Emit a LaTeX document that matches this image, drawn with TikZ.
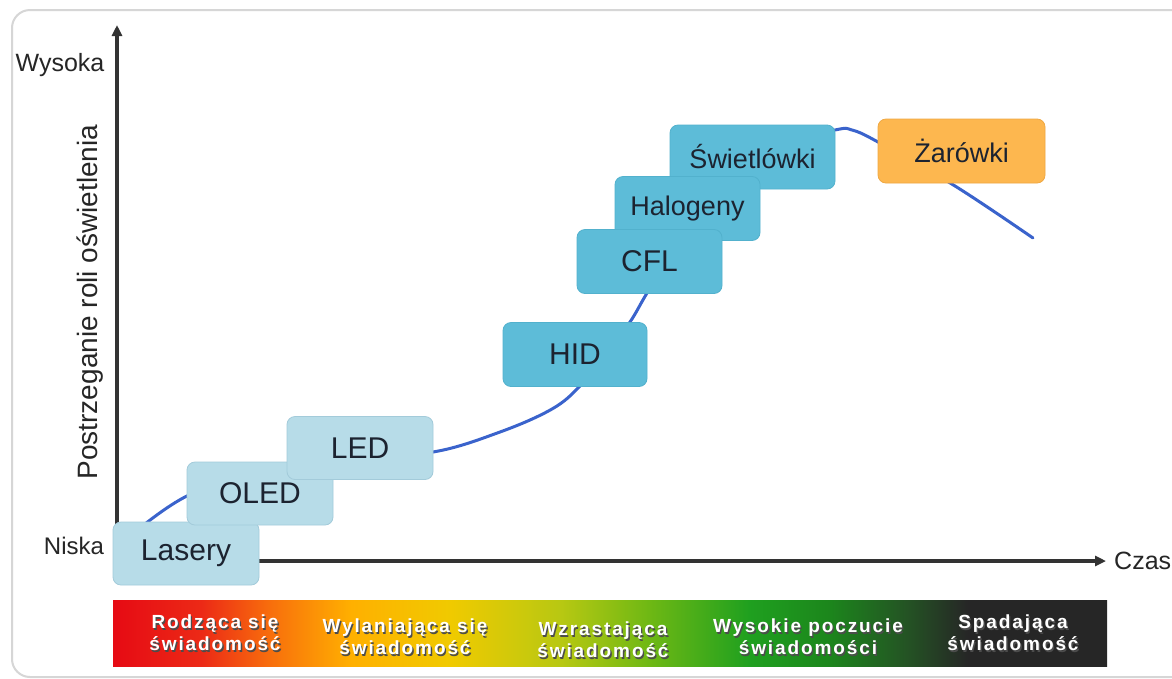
\documentclass[tikz,border=0pt]{standalone}
\usepackage{fontspec}
\setmainfont{Liberation Sans}
\newfontfamily\barfont[LetterSpace=10]{Liberation Sans}
\usetikzlibrary{arrows.meta}
\definecolor{lbfill}{HTML}{B7DCE8}
\definecolor{lbdraw}{HTML}{A3CBDA}
\definecolor{dbfill}{HTML}{5DBCD8}
\definecolor{dbdraw}{HTML}{52B1CD}
\definecolor{orfill}{HTML}{FDB74F}
\definecolor{ordraw}{HTML}{EFA843}
\definecolor{curvec}{HTML}{3A63CC}
\definecolor{axisc}{HTML}{333333}
\definecolor{framec}{HTML}{D6D6D6}
\definecolor{boxtext}{HTML}{1C2330}
\definecolor{g0}{HTML}{E60A14}
\definecolor{g1}{HTML}{EC2A16}
\definecolor{g2}{HTML}{F8700C}
\definecolor{g3}{HTML}{FFB000}
\definecolor{g4}{HTML}{F0CA00}
\definecolor{g5}{HTML}{B8C812}
\definecolor{g6}{HTML}{6EB814}
\definecolor{g7}{HTML}{1FA01F}
\definecolor{g8}{HTML}{1C861C}
\definecolor{g9}{HTML}{245224}
\definecolor{g10}{HTML}{262626}
\pgfdeclarehorizontalshading{aware}{100bp}{color(0bp)=(g0); color(25bp)=(g0); color(29.5bp)=(g1); color(33bp)=(g2); color(37bp)=(g3); color(42bp)=(g4); color(47.5bp)=(g5); color(52bp)=(g6); color(57bp)=(g7); color(61bp)=(g8); color(65bp)=(g9); color(68bp)=(g10); color(75bp)=(g10); color(100bp)=(g10)}
\tikzset{
  boxbase/.style={rounded corners=8pt, inner sep=0pt, text=boxtext, line width=0.8pt},
  lbox/.style={boxbase, fill=lbfill, draw=lbdraw, minimum width=146pt, minimum height=63pt, font=\fontsize{30}{34}\selectfont},
  dbox/.style={boxbase, fill=dbfill, draw=dbdraw, minimum width=146pt, minimum height=64pt, font=\fontsize{30}{34}\selectfont},
  dboxs/.style={dbox, font=\fontsize{27}{31}\selectfont},
  obox/.style={boxbase, fill=orfill, draw=ordraw, minimum width=167pt, minimum height=64pt, font=\fontsize{27}{31}\selectfont},
  axisline/.style={draw=axisc, line width=3.2pt, -{Triangle[length=11pt,width=10pt]}},
  curveline/.style={draw=curvec, line width=3pt, line cap=round},
  axlabel/.style={text=black!85, inner sep=0pt},
  bartxt/.style={text=white, align=center, inner sep=0pt, font=\barfont\bfseries\fontsize{19}{22}\selectfont},
  barshadow/.style={bartxt, text=black!70},
}
\begin{document}
\begin{tikzpicture}[x=1pt, y=-1pt]
\useasboundingbox (0,0) rectangle (1172,678);
\fill[white] (0,0) rectangle (1172,678);
% frame
\draw[framec, line width=2pt, rounded corners=18pt] (12,10) rectangle (1190,677);
% axes
\coordinate (origin) at (117,561);
\coordinate (ytop) at (117,25);
\coordinate (xend) at (1106,561);
\draw[axisline] (origin) -- (ytop);
\draw[axisline] (origin) -- (xend);
\node[axlabel, font=\fontsize{25}{28}\selectfont] (wys) at (60,65) {Wysoka};
\node[axlabel, font=\fontsize{24}{28}\selectfont] (nis) at (74,546) {Niska};
\node[axlabel, anchor=west, font=\fontsize{25}{28}\selectfont] (czas) at (1114,561) {Czas};
\node[axlabel, rotate=90, font=\fontsize{28}{32}\selectfont] (ylab) at (90,302) {Postrzeganie roli oświetlenia};
% curve
\coordinate (c1) at (140,528);
\coordinate (c2) at (187,496);
\coordinate (c3) at (260,470);
\coordinate (c4) at (350,457);
\coordinate (c5) at (433,452);
\coordinate (c6) at (500,432);
\coordinate (c7) at (552,409);
\coordinate (c8) at (580,386);
\coordinate (c9) at (606,354);
\coordinate (c10) at (630,322);
\coordinate (c11) at (647,293);
\coordinate (c12) at (682,235);
\coordinate (c13) at (722,182);
\coordinate (c14) at (772,146);
\coordinate (c15) at (835,130);
\coordinate (c16) at (852,130);
\coordinate (c17) at (878,142);
\coordinate (c18) at (955,186);
\coordinate (c19) at (1033,238);
\draw[curveline] plot[smooth, tension=0.6] coordinates {(c1) (c2) (c3) (c4) (c5) (c6) (c7) (c8) (c9) (c10) (c11) (c12) (c13) (c14) (c15) (c16) (c17) (c18) (c19)};
% boxes
\node[lbox] (las) at (186,553.5) {Lasery};
\node[lbox] (oled) at (260,493.5) {OLED};
\node[lbox] (led) at (360,448) {LED};
\node[dboxs, minimum width=165pt] (swi) at (752.5,157) {Świetlówki};
\node[dboxs, minimum width=145pt] (hal) at (687.5,208.5) {Halogeny};
\node[dbox, minimum width=145pt] (cfl) at (649.5,261.5) {CFL};
\node[dbox, minimum width=144pt] (hid) at (575,354.5) {HID};
\node[obox] (zar) at (961.5,151) {Żarówki};
% bar
\shade[shading=aware] (113,600) rectangle (1107,666);
\node[barshadow] (t1s) at (216.3,634.3) {Rodząca się\\świadomość};
\node[bartxt] (t1) at (215,633) {Rodząca się\\świadomość};
\node[barshadow] (t2s) at (406.3,638.3) {Wylaniająca się\\świadomość};
\node[bartxt] (t2) at (405,637) {Wylaniająca się\\świadomość};
\node[barshadow] (t3s) at (604.3,641.3) {Wzrastająca\\świadomość};
\node[bartxt] (t3) at (603,640) {Wzrastająca\\świadomość};
\node[barshadow] (t4s) at (809.3,638.3) {Wysokie poczucie\\świadomości};
\node[bartxt] (t4) at (808,637) {Wysokie poczucie\\świadomości};
\node[barshadow] (t5s) at (1014.3,634.3) {Spadająca\\świadomość};
\node[bartxt] (t5) at (1013,633) {Spadająca\\świadomość};
\end{tikzpicture}
\end{document}
